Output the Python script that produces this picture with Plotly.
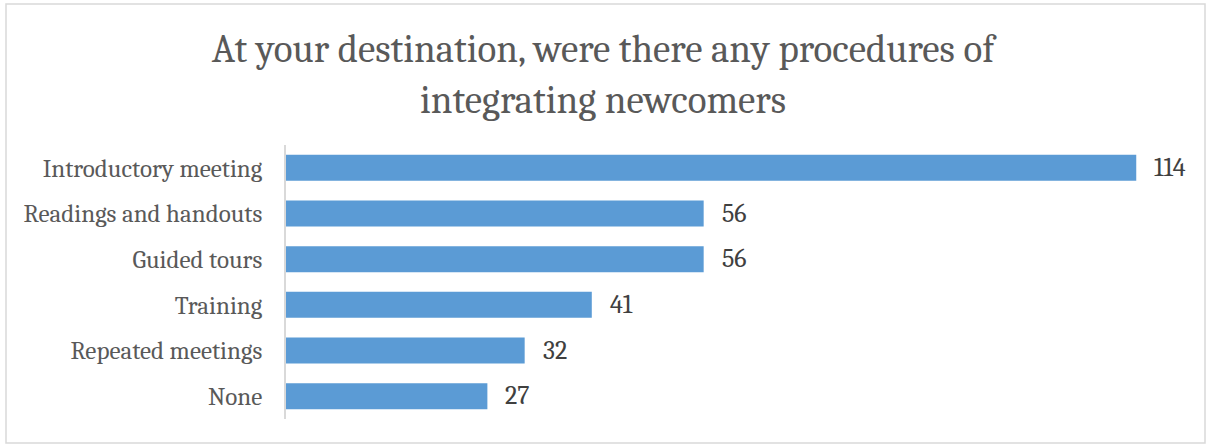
import plotly.graph_objects as go

categories = ["Introductory meeting", "Readings and handouts", "Guided tours",
              "Training", "Repeated meetings", "None"]
counts = [114, 56, 56, 41, 32, 27]

title_text = "At your destination, were there any procedures of<br>integrating newcomers"

W, H = 1206, 446
L, R, T, B = 286, 25, 145, 27
pw, ph = W - L - R, H - T - B

font_family = "Cambria, 'Liberation Serif', 'DejaVu Serif', serif"
bar_color = "#5B9BD5"
text_color = "#595959"

fig = go.Figure(
    go.Bar(
        y=categories,
        x=counts,
        orientation="h",
        marker=dict(color=bar_color, line=dict(width=0)),
        hoverinfo="x+y",
    )
)

# value labels to the right of each bar
for cat, val in zip(categories, counts):
    fig.add_annotation(
        x=val, y=cat, text=str(val), showarrow=False,
        xanchor="left", yanchor="middle", xshift=16,
        font=dict(family=font_family, size=26, color="#404040"),
    )

# outer chart border
fig.add_shape(
    type="rect", xref="paper", yref="paper",
    x0=(6 - L) / pw, x1=(1205 - L) / pw,
    y0=(H - B - 443) / ph, y1=(H - B - 4) / ph,
    line=dict(color="#d9d9d9", width=1.5), fillcolor="rgba(0,0,0,0)",
    layer="below",
)

fig.update_layout(
    width=W, height=H,
    margin=dict(l=L, r=R, t=T, b=B, autoexpand=False),
    paper_bgcolor="white", plot_bgcolor="white",
    showlegend=False,
    bargap=0.43,
    title=dict(
        text=title_text, x=0.5, xref="container", xanchor="center",
        y=1 - 62 / H, yref="container", yanchor="bottom",
        font=dict(family=font_family, size=39, color=text_color),
    ),
    xaxis=dict(range=[0, 120], visible=False, fixedrange=True),
    yaxis=dict(
        autorange="reversed",
        showline=True, linecolor="#d9d9d9", linewidth=1.5,
        showgrid=False, ticks="", ticklabelstandoff=17,
        tickfont=dict(family=font_family, size=25, color=text_color),
    ),
)

fig.write_html("out.html")
